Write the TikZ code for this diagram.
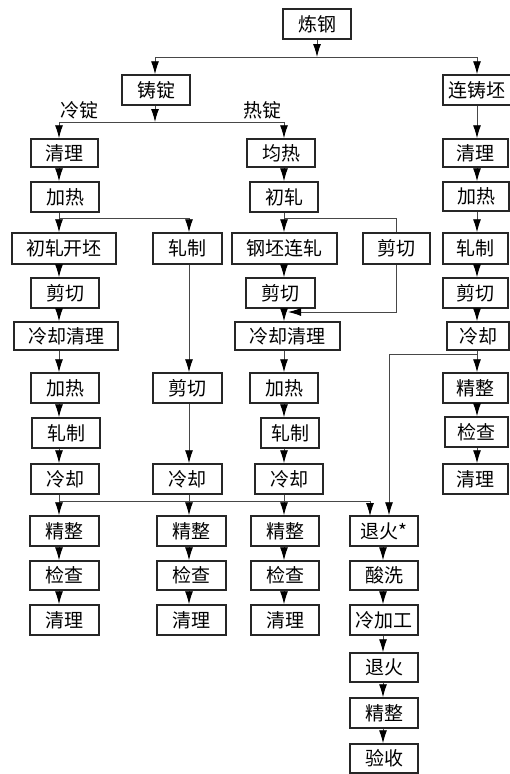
\documentclass[tikz,border=0pt]{standalone}
\usepackage{fontspec}
\newfontfamily\cjk{Noto Sans CJK SC}
\usetikzlibrary{arrows.meta}
\tikzset{
  box/.style={draw=black!85, line width=1.5pt, inner sep=0pt, font=\cjk\fontsize{19}{19}\selectfont},
  lbl/.style={inner sep=0pt, font=\cjk\fontsize{19}{19}\selectfont},
  ln/.style={draw=black!72, line width=0.9pt},
  arr/.style={ln, -{Latex[length=13pt,width=8pt,color=black]}},
}
\newcommand\bx[6]{\node[box, minimum width={#3-#2}, minimum height={#5-#4}] (#1) at ({(#2+#3)/2},{(#4+#5)/2}) {#6};}
\begin{document}
\begin{tikzpicture}[x=1pt,y=-1pt]
\useasboundingbox (0,0) rectangle (509,774);
% column x positions
\coordinate (xA) at (59,0);
\coordinate (xB) at (189,0);
\coordinate (xC) at (284,0);
\coordinate (xD) at (383,0);
\coordinate (xE) at (477,0);
% top
\bx{lg}{283}{351}{9}{39}{炼钢}
\bx{zd}{122}{190}{75}{105}{铸锭}
\bx{lz}{443}{511}{75}{105}{连铸坯}
\node[lbl] (lblA) at (79,110) {冷锭};
\node[lbl] (lblC) at (262,110) {热锭};
% column A
\bx{a1}{31}{98}{139}{167}{清理}
\bx{a2}{31}{99}{182}{212}{加热}
\bx{a3}{12}{116}{233}{264}{初轧开坯}
\bx{a4}{31}{99}{278}{308}{剪切}
\bx{a5}{14}{118}{322}{350}{冷却清理}
\bx{a6}{31}{99}{373}{403}{加热}
\bx{a7}{32}{100}{418}{448}{轧制}
\bx{a8}{31}{99}{464}{494}{冷却}
\bx{a9}{30}{99}{516}{546}{精整}
\bx{a10}{30}{99}{561}{590}{检查}
\bx{a11}{30}{99}{605}{635}{清理}
% column B
\bx{b1}{153}{222}{233}{264}{轧制}
\bx{b2}{153}{222}{373}{403}{剪切}
\bx{b3}{153}{222}{464}{494}{冷却}
\bx{b4}{157}{226}{516}{546}{精整}
\bx{b5}{157}{226}{561}{590}{检查}
\bx{b6}{157}{226}{605}{635}{清理}
% column C
\bx{c1}{247}{315}{139}{167}{均热}
\bx{c2}{250}{318}{182}{212}{初轧}
\bx{c3}{232}{337}{233}{264}{钢坯连轧}
\bx{c3b}{363}{430}{233}{264}{剪切}
\bx{c4}{246}{315}{278}{308}{剪切}
\bx{c5}{235}{340}{322}{350}{冷却清理}
\bx{c6}{250}{318}{373}{403}{加热}
\bx{c7}{261}{319}{418}{448}{轧制}
\bx{c8}{255}{323}{464}{494}{冷却}
\bx{c9}{251}{319}{516}{546}{精整}
\bx{c10}{251}{319}{561}{590}{检查}
\bx{c11}{251}{319}{605}{635}{清理}
% column D
\bx{d1}{350}{418}{516}{546}{退火*}
\bx{d2}{350}{418}{561}{590}{酸洗}
\bx{d3}{350}{418}{605}{635}{冷加工}
\bx{d4}{350}{418}{653}{682}{退火}
\bx{d5}{350}{418}{698}{728}{精整}
\bx{d6}{350}{418}{744}{773}{验收}
% column E
\bx{e1}{443}{508}{139}{167}{清理}
\bx{e2}{443}{509}{182}{211}{加热}
\bx{e3}{443}{508}{233}{264}{轧制}
\bx{e4}{443}{508}{278}{308}{剪切}
\bx{e5}{447}{509}{322}{350}{冷却}
\bx{e6}{443}{508}{373}{403}{精整}
\bx{e7}{445}{508}{417}{447}{检查}
\bx{e8}{443}{508}{464}{494}{清理}
% junction coordinates
\coordinate (j1) at (317,57);
\coordinate (j2) at (155,122);
\coordinate (j3) at (59,218);
\coordinate (j4) at (284,218);
\coordinate (j5) at (59,501);
\coordinate (j6) at (396,312);
\coordinate (j7) at (288,312);
\coordinate (j8) at (477,354);
\coordinate (j9) at (389,354);
% top connectors
\draw[arr] (lg.south -| j1) -- (j1);
\draw[ln] (j1) -- (155,57);
\draw[ln] (j1) -- (477,57);
\draw[arr] (155,57) -- (zd.north -| j2);
\draw[arr] (477,57) -- (lz.north -| xE);
\draw[arr] (zd.south -| j2) -- (j2);
\draw[arr] (j2) -| (a1.north -| xA);
\draw[arr] (j2) -| (c1.north -| xC);
% column A
\draw[arr] (a1.south -| xA) -- (a2.north -| xA);
\draw[arr] (a2.south -| xA) -- (a3.north -| xA);
\draw[arr] (j3) -| (b1.north -| xB);
\draw[arr] (a3.south -| xA) -- (a4.north -| xA);
\draw[arr] (a4.south -| xA) -- (a5.north -| xA);
\draw[arr] (a5.south -| xA) -- (a6.north -| xA);
\draw[arr] (a6.south -| xA) -- (a7.north -| xA);
\draw[arr] (a7.south -| xA) -- (a8.north -| xA);
\draw[arr] (a8.south -| xA) -- (a9.north -| xA);
\draw[ln] (j5) -- (370,501);
\draw[arr] (370,501) -- (370,516);
\draw[arr] (a9.south -| xA) -- (a10.north -| xA);
\draw[arr] (a10.south -| xA) -- (a11.north -| xA);
% column B
\draw[arr] (b1.south -| xB) -- (b2.north -| xB);
\draw[arr] (b2.south -| xB) -- (b3.north -| xB);
\draw[arr] (b3.south -| xB) -- (b4.north -| xB);
\draw[arr] (b4.south -| xB) -- (b5.north -| xB);
\draw[arr] (b5.south -| xB) -- (b6.north -| xB);
% column C
\draw[arr] (c1.south -| xC) -- (c2.north -| xC);
\draw[arr] (c2.south -| xC) -- (c3.north -| xC);
\draw[ln] (j4) -| (c3b.north -| j6);
\draw[arr] (c3.south -| xC) -- (c4.north -| xC);
\draw[arr] (c4.south -| xC) -- (c5.north -| xC);
\draw[arr] (c3b.south -| j6) |- (j7);
\draw[arr] (c5.south -| xC) -- (c6.north -| xC);
\draw[arr] (c6.south -| xC) -- (c7.north -| xC);
\draw[arr] (c7.south -| xC) -- (c8.north -| xC);
\draw[arr] (c8.south -| xC) -- (c9.north -| xC);
\draw[arr] (c9.south -| xC) -- (c10.north -| xC);
\draw[arr] (c10.south -| xC) -- (c11.north -| xC);
% column D
\draw[arr] (d1.south -| xD) -- (d2.north -| xD);
\draw[arr] (d2.south -| xD) -- (d3.north -| xD);
\draw[arr] (d3.south -| xD) -- (d4.north -| xD);
\draw[arr] (d4.south -| xD) -- (d5.north -| xD);
\draw[arr] (d5.south -| xD) -- (d6.north -| xD);
% column E
\draw[arr] (lz.south -| xE) -- (e1.north -| xE);
\draw[arr] (e1.south -| xE) -- (e2.north -| xE);
\draw[arr] (e2.south -| xE) -- (e3.north -| xE);
\draw[arr] (e3.south -| xE) -- (e4.north -| xE);
\draw[arr] (e4.south -| xE) -- (e5.north -| xE);
\draw[arr] (e5.south -| xE) -- (e6.north -| xE);
\draw[arr] (e6.south -| xE) -- (e7.north -| xE);
\draw[arr] (e7.south -| xE) -- (e8.north -| xE);
\draw[arr] (j8) -- (j9) -- (d1.north -| j9);
\end{tikzpicture}
\end{document}
